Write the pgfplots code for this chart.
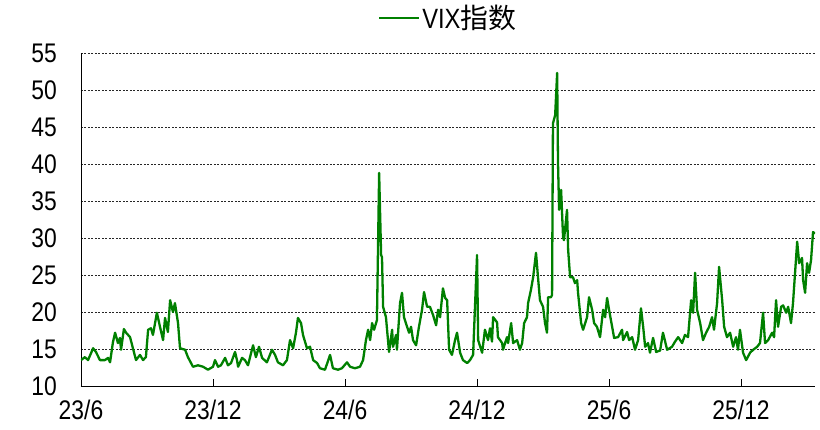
\documentclass[border=0pt]{standalone}
\usepackage{fontspec}
\setmainfont{Liberation Sans}[FakeStretch=0.85]
\newfontfamily\cjk{Noto Sans CJK SC}
\usepackage{pgfplots}
\pgfplotsset{compat=1.18}
\definecolor{vixgreen}{RGB}{0,128,0}
\begin{document}
\begin{tikzpicture}
\begin{axis}[
  scale only axis, width=734bp, height=333bp,
  xmin=0, xmax=33.36, ymin=10, ymax=55,
  xtick={0,6,12,18,24,30},
  xticklabels={23/6,23/12,24/6,24/12,25/6,25/12},
  ytick={10,15,...,55},
  axis lines*=left,
  axis line style={black, line width=0.9bp},
  ymajorgrids,
  grid style={black!85, dash pattern=on 2bp off 1.5bp, line width=0.7bp},
  tick align=inside, major tick length=7bp,
  ytick style={draw=none},
  xtick style={black, line width=0.9bp},
  /pgf/number format/assume math mode=true,
  tick label style={font=\fontsize{27}{29}\selectfont, inner sep=0pt},
  yticklabel style={xshift=-24bp},
  xticklabel style={yshift=-14bp},
  legend style={draw=none, fill=none, at={(0.5,1)}, anchor=center, yshift=35bp,
    font=\fontsize{28}{30}\selectfont},
  legend image code/.code={\draw[#1, line width=2.6bp] (0bp,0bp) -- (40bp,0bp);},
]
\addplot[vixgreen, line width=2.3bp, line join=round] coordinates {
(0,13.5)(0.18,13.9)(0.32,13.5)(0.55,15.1)(0.68,14.6)(0.86,13.5)(1.09,13.5)(1.23,13.8)(1.32,13.2)
(1.45,15.9)(1.55,17.2)(1.68,15.8)(1.77,16.5)(1.82,14.9)(1.95,17.7)(2.05,17.2)(2.23,16.6)(2.36,15.1)
(2.5,13.5)(2.68,14.2)(2.82,13.5)(2.95,13.9)(3.05,17.6)(3.18,17.8)(3.27,16.9)(3.45,19.9)(3.59,18.0)
(3.73,16.2)(3.82,19.2)(3.95,17.3)(4.05,21.6)(4.18,20.0)(4.27,21.2)(4.41,18.5)(4.5,15.1)(4.73,14.9)
(4.86,13.9)(5.09,12.6)(5.32,12.8)(5.55,12.6)(5.77,12.2)(6.0,12.6)(6.09,13.5)(6.23,12.6)(6.36,12.8)
(6.55,13.8)(6.68,12.8)(6.82,13.1)(7.0,14.6)(7.09,13.5)(7.14,12.6)(7.32,13.8)(7.45,13.5)(7.59,12.8)
(7.82,15.5)(7.95,13.9)(8.09,15.3)(8.23,13.8)(8.45,13.2)(8.68,14.9)(8.82,14.2)(8.95,13.2)(9.18,12.8)
(9.36,13.5)(9.5,16.2)(9.64,15.1)(9.77,17.2)(9.86,19.2)(10.0,18.5)(10.09,16.9)(10.27,15.1)(10.41,15.3)
(10.55,13.5)(10.73,13.1)(10.86,12.4)(11.09,12.2)(11.32,14.2)(11.45,12.4)(11.68,12.2)(11.86,12.4)
(12.09,13.2)(12.23,12.6)(12.45,12.4)(12.68,12.6)(12.82,13.5)(12.95,16.2)(13.05,17.6)(13.14,16.2)
(13.23,18.5)(13.32,17.6)(13.45,18.9)(13.55,38.8)(13.64,27.7)(13.68,27.4)(13.73,20.7)(13.86,19.3)
(14.0,14.6)(14.14,17.6)(14.18,15.3)(14.32,16.9)(14.36,14.9)(14.5,21.2)(14.59,22.6)(14.68,19.3)
(14.82,18.0)(14.91,17.2)(15.0,18.0)(15.09,16.2)(15.23,15.5)(15.36,18.0)(15.5,20.3)(15.59,22.7)
(15.73,20.7)(15.86,20.7)(16.0,19.6)(16.14,18.2)(16.23,20.3)(16.32,19.3)(16.45,23.2)(16.55,21.9)
(16.64,21.6)(16.73,14.9)(16.86,14.2)(17.0,16.2)(17.09,17.2)(17.23,14.5)(17.36,13.5)(17.55,13.1)
(17.68,13.5)(17.82,14.2)(18.0,27.7)(18.05,16.2)(18.23,14.5)(18.36,17.6)(18.5,16.2)(18.59,17.8)
(18.68,16.0)(18.73,19.3)(18.91,18.6)(18.95,16.6)(19.14,15.8)(19.18,14.9)(19.36,16.6)(19.41,15.8)
(19.55,18.5)(19.64,15.8)(19.82,16.2)(19.95,14.9)(20.05,15.8)(20.14,18.5)(20.27,19.3)(20.32,21.2)
(20.45,23.0)(20.55,24.7)(20.68,28.0)(20.77,24.7)(20.86,21.6)(21.0,20.7)(21.09,18.5)(21.18,17.2)
(21.23,22.0)(21.36,22.0)(21.41,22.3)(21.45,45.5)(21.55,46.6)(21.64,52.3)(21.68,40.1)(21.73,33.8)
(21.82,36.5)(21.91,30.1)(21.95,29.7)(22.09,33.8)(22.14,28.4)(22.23,24.7)(22.36,24.7)(22.45,23.9)
(22.55,24.3)(22.59,22.6)(22.73,18.5)(22.82,17.6)(23.0,19.3)(23.09,22.0)(23.23,20.3)(23.32,18.5)
(23.45,18.0)(23.59,16.6)(23.73,20.3)(23.82,19.3)(23.91,21.9)(24.0,20.3)(24.14,18.0)(24.23,16.5)
(24.41,16.6)(24.59,17.6)(24.64,16.2)(24.82,17.3)(24.91,16.2)(25.05,16.6)(25.18,14.9)(25.32,16.2)
(25.45,20.5)(25.55,18.0)(25.64,15.3)(25.77,15.8)(25.86,14.5)(26.0,16.5)(26.14,14.6)(26.32,14.8)
(26.45,17.2)(26.64,14.9)(26.86,15.3)(27.0,16.0)(27.14,16.6)(27.32,15.8)(27.45,16.9)(27.59,16.6)
(27.73,21.6)(27.82,19.9)(27.91,25.3)(28.0,20.3)(28.14,18.5)(28.27,16.2)(28.41,17.2)(28.55,18.0)
(28.68,19.3)(28.77,17.6)(28.91,21.2)(29.0,26.1)(29.14,21.6)(29.23,18.0)(29.36,16.6)(29.5,17.2)
(29.64,15.3)(29.77,16.6)(29.86,14.9)(29.95,17.6)(30.09,14.5)(30.23,13.5)(30.41,14.5)(30.55,14.9)
(30.73,15.3)(30.86,15.8)(31.0,19.9)(31.09,15.8)(31.23,16.2)(31.41,17.2)(31.5,16.6)(31.59,21.6)
(31.68,18.0)(31.82,20.7)(31.91,20.9)(32.05,19.9)(32.14,20.7)(32.27,18.5)(32.36,21.2)(32.41,23.4)
(32.55,29.5)(32.64,26.6)(32.77,27.3)(32.82,24.3)(32.91,22.6)(33.0,26.6)(33.09,25.3)(33.18,27.0)
(33.27,30.8)(33.36,30.6)
};
\addlegendentry{VIX{\cjk 指数}}
\end{axis}
\path[use as bounding box] (-81bp,-44bp) rectangle (739bp,386bp);
\end{tikzpicture}
\end{document}
